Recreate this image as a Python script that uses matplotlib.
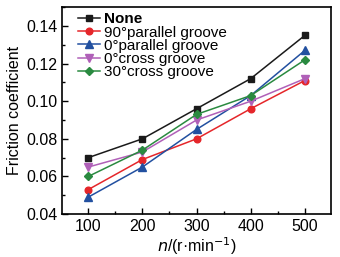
import matplotlib
matplotlib.use('Agg')
import matplotlib.pyplot as plt
from matplotlib.ticker import MultipleLocator

plt.rcParams['font.family'] = ['Liberation Sans', 'DejaVu Sans']

speed = [100, 200, 300, 400, 500]
labels = ['None', '90°parallel groove', '0°parallel groove', '0°cross groove', '30°cross groove']
none = [0.070, 0.080, 0.096, 0.112, 0.135]
par90 = [0.053, 0.069, 0.080, 0.096, 0.111]
par0 = [0.049, 0.065, 0.085, 0.103, 0.127]
cross0 = [0.065, 0.073, 0.090, 0.100, 0.112]
cross30 = [0.060, 0.074, 0.093, 0.103, 0.122]

series = [none, par90, par0, cross0, cross30]
colors = ['#1a1a1a', '#e5262a', '#2250a0', '#b060b8', '#2a8a40']
markers = ['s', 'o', '^', 'v', 'D']
msizes = [4.2, 4.8, 5.2, 5.2, 4.2]

fig = plt.figure(figsize=(3.4, 2.57), dpi=100)
ax = fig.add_axes([0.183, 0.167, 0.79, 0.805])

for ys, c, m, ms, lab in zip(series, colors, markers, msizes, labels):
    ax.plot(speed, ys, color=c, marker=m, markersize=ms, linewidth=1.1, label=lab)

ax.set_xlim(52, 548)
ax.set_ylim(0.04, 0.15)
ax.set_xticks(speed)
ax.set_yticks([0.04, 0.06, 0.08, 0.10, 0.12, 0.14])
ax.set_yticklabels(['0.04', '0.06', '0.08', '0.10', '0.12', '0.14'])
ax.xaxis.set_minor_locator(MultipleLocator(50))
ax.yaxis.set_minor_locator(MultipleLocator(0.01))
ax.tick_params(which='both', direction='in', labelsize=11.5)
ax.tick_params(which='major', length=4, width=1)
ax.tick_params(which='minor', length=2.5, width=1)
for s in ax.spines.values():
    s.set_linewidth(1.2)

ax.set_xlabel(r'$n$/(r·min$^{-1}$)', fontsize=11.5, labelpad=1)
ax.set_ylabel('Friction coefficient', fontsize=11.5, labelpad=3)

leg = ax.legend(loc='upper left', frameon=False, fontsize=11, handlelength=1.45,
                handletextpad=0.25, labelspacing=-0.05, borderaxespad=0.0,
                bbox_to_anchor=(0.035, 1.005))
leg.get_texts()[0].set_fontweight('bold')

fig.savefig('out.png', dpi=100)
